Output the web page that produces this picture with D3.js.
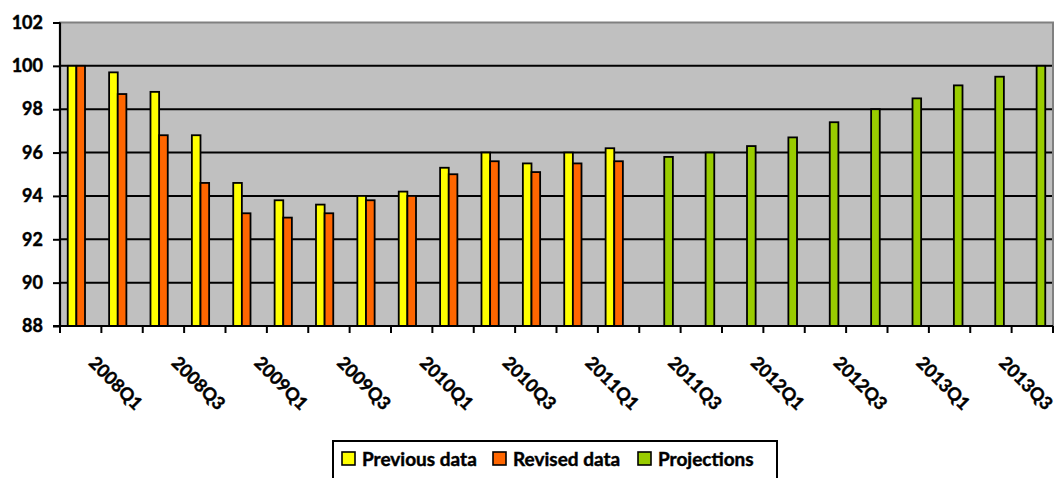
<!DOCTYPE html>
<html>
<head>
<meta charset="utf-8">
<script src="https://cdn.jsdelivr.net/npm/d3@7"></script>
<style>
  html, body { margin: 0; padding: 0; background: #fff; }
  svg { display: block; }
  .lbl { font-family: Lato, "Open Sans", sans-serif; font-weight: 700; fill: #000;
         stroke: #000; stroke-width: 0.45px; }
</style>
</head>
<body>
<svg id="chart" width="1059" height="478"></svg>
<script>
// Quarterly index, 2008Q1 = 100
const quarters = [
  "2008Q1","2008Q2","2008Q3","2008Q4",
  "2009Q1","2009Q2","2009Q3","2009Q4",
  "2010Q1","2010Q2","2010Q3","2010Q4",
  "2011Q1","2011Q2","2011Q3","2011Q4",
  "2012Q1","2012Q2","2012Q3","2012Q4",
  "2013Q1","2013Q2","2013Q3","2013Q4"
];
const previousData = [100, 99.7, 98.8, 96.8, 94.6, 93.8, 93.6, 94.0, 94.2, 95.3, 96.0, 95.5, 96.0, 96.2,
  null, null, null, null, null, null, null, null, null, null];
const revisedData = [100, 98.7, 96.8, 94.6, 93.2, 93.0, 93.2, 93.8, 94.0, 95.0, 95.6, 95.1, 95.5, 95.6,
  null, null, null, null, null, null, null, null, null, null];
const projections = [null, null, null, null, null, null, null, null, null, null, null, null, null, null,
  95.8, 96.0, 96.3, 96.7, 97.4, 98.0, 98.5, 99.1, 99.5, 100.0];
const yTicks = [88, 90, 92, 94, 96, 98, 100, 102];
const tickLabelEvery = 2;

const seriesNames = ["Previous data", "Revised data", "Projections"];
const seriesValues = [previousData, revisedData, projections];
const seriesColors = ["#FFFF00", "#FF6600", "#99CC00"];

const svg = d3.select("#chart");
const plot = { left: 60, right: 1053, top: 22.5, bottom: 326 };
const axisFontSize = 18;
const legendFontSize = 19;

const x = d3.scaleBand().domain(quarters).range([plot.left, plot.right]).padding(0);
const y = d3.scaleLinear().domain([88, 102]).range([plot.bottom, plot.top]);

// series offsets inside each quarter: three slots centred on the band
const groupWidth = x.bandwidth() * 0.626;
const xs = d3.scaleBand().domain(seriesNames)
  .range([(x.bandwidth() - groupWidth) / 2, (x.bandwidth() + groupWidth) / 2]);

// plot area
svg.append("rect")
  .attr("x", plot.left).attr("y", plot.top)
  .attr("width", plot.right - plot.left).attr("height", plot.bottom - plot.top)
  .attr("fill", "#C0C0C0")
  .attr("stroke", "#808080").attr("stroke-width", 2);

// gridlines
svg.append("g")
  .selectAll("line")
  .data(yTicks.filter(d => d > 88 && d < 102))
  .join("line")
  .attr("x1", plot.left).attr("x2", plot.right - 1)
  .attr("y1", d => y(d)).attr("y2", d => y(d))
  .attr("stroke", "#000").attr("stroke-width", 2);

// bars
seriesNames.forEach((name, si) => {
  const vals = seriesValues[si];
  svg.append("g")
    .selectAll("rect")
    .data(quarters.map((q, i) => ({ q, v: vals[i] })).filter(d => d.v != null))
    .join("rect")
    .attr("x", d => x(d.q) + xs(name))
    .attr("width", xs.bandwidth())
    .attr("y", d => y(d.v))
    .attr("height", d => y(88) - y(d.v))
    .attr("fill", seriesColors[si])
    .attr("stroke", "#000").attr("stroke-width", 1.8);
});

// y axis
const yAxis = svg.append("g")
  .attr("transform", `translate(${plot.left},0)`)
  .call(d3.axisLeft(y).tickValues(yTicks).tickSize(7).tickPadding(10).tickFormat(d3.format("d")));
yAxis.select(".domain").attr("stroke", "#000").attr("stroke-width", 2.2)
  .attr("d", `M0,${plot.top}V${plot.bottom}`);
yAxis.selectAll(".tick line").attr("stroke", "#000").attr("stroke-width", 2);
yAxis.selectAll(".tick text")
  .attr("class", "lbl")
  .attr("font-size", axisFontSize);

// x axis: ticks on band boundaries
const xAxisG = svg.append("g").attr("transform", `translate(0,${plot.bottom})`);
xAxisG.append("line")
  .attr("x1", plot.left - 7).attr("x2", plot.right)
  .attr("stroke", "#000").attr("stroke-width", 2.2);
const boundaries = quarters.map(q => x(q)).concat([plot.right]);
xAxisG.selectAll("line.tick")
  .data(boundaries)
  .join("line")
  .attr("class", "tick")
  .attr("x1", d => d).attr("x2", d => d)
  .attr("y1", 0).attr("y2", 7)
  .attr("stroke", "#000").attr("stroke-width", 2);

xAxisG.selectAll("text")
  .data(quarters.filter((q, i) => i % tickLabelEvery === 0))
  .join("text")
  .attr("class", "lbl")
  .attr("transform", d => `translate(${x(d) + x.bandwidth() / 2 + 7},38) rotate(45)`)
  .attr("text-anchor", "start")
  .attr("font-size", axisFontSize)
  .text(d => d);

// legend
const legend = svg.append("g");
legend.append("rect")
  .attr("x", 333).attr("y", 441)
  .attr("width", 444).attr("height", 50)
  .attr("fill", "#fff").attr("stroke", "#000").attr("stroke-width", 2);
const legendX = [342, 493, 638];
seriesNames.forEach((name, i) => {
  legend.append("rect")
    .attr("x", legendX[i]).attr("y", 452)
    .attr("width", 13).attr("height", 13)
    .attr("fill", seriesColors[i]).attr("stroke", "#000").attr("stroke-width", 1.6);
  legend.append("text")
    .attr("class", "lbl")
    .attr("x", legendX[i] + 20).attr("y", 466)
    .attr("font-size", legendFontSize)
    .text(name);
});
</script>
</body>
</html>
